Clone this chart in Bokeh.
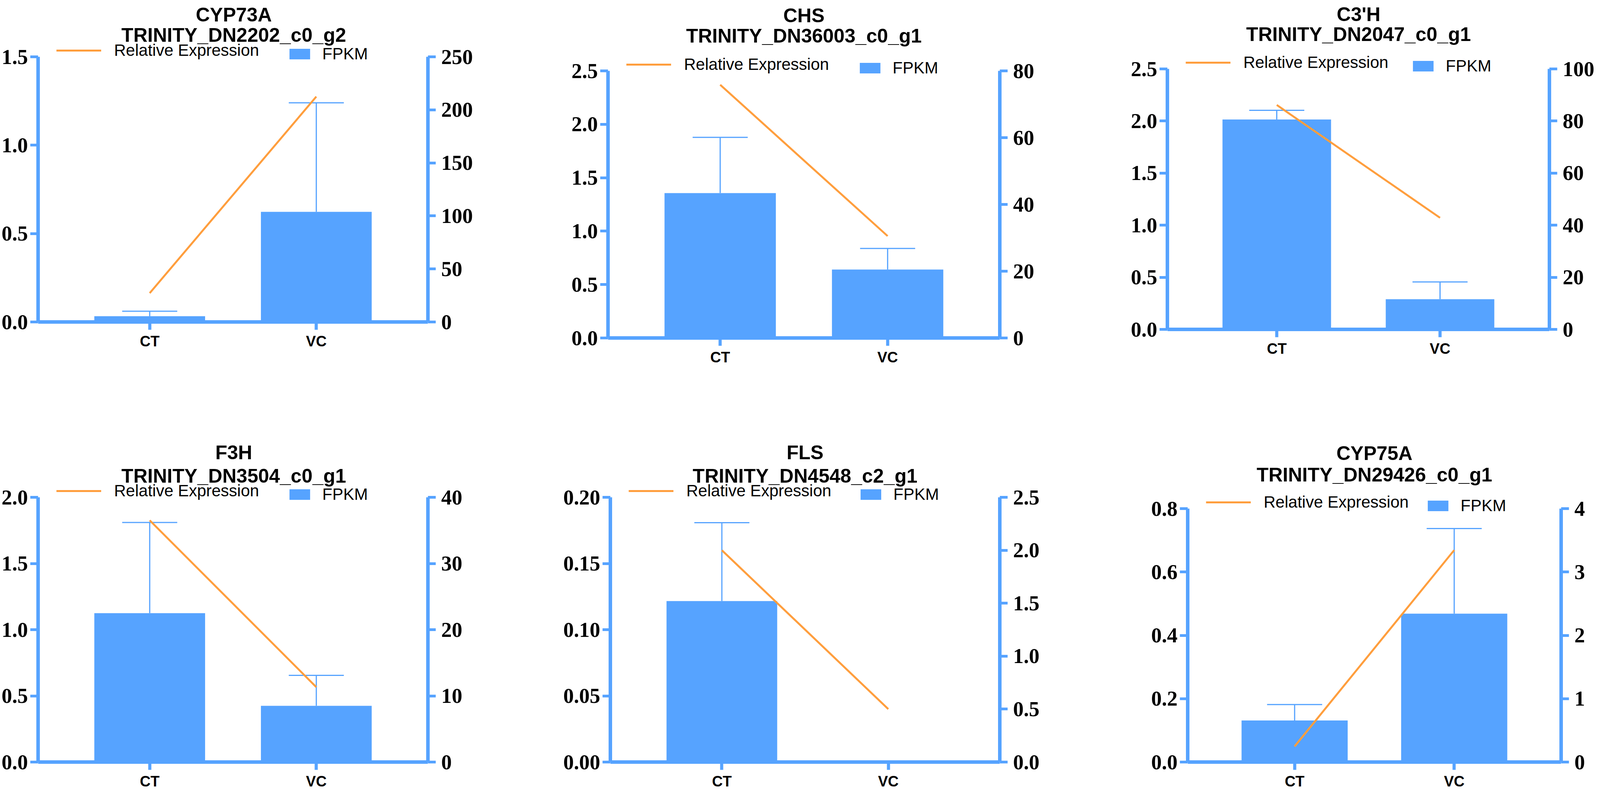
from bokeh.plotting import figure
from bokeh.models import (FactorRange, Range1d, LinearAxis, FixedTicker,
                          PrintfTickFormatter, Legend, LegendItem, Label)
from bokeh.layouts import row, column
from bokeh.embed import file_html
from bokeh.resources import INLINE

# ---------------- data ----------------
categories = ["CT", "VC"]

genes = ["CYP73A", "CHS", "C3'H", "F3H", "FLS", "CYP75A"]
transcripts = ["TRINITY_DN2202_c0_g2", "TRINITY_DN36003_c0_g1", "TRINITY_DN2047_c0_g1",
               "TRINITY_DN3504_c0_g1", "TRINITY_DN4548_c2_g1", "TRINITY_DN29426_c0_g1"]

# Relative expression (left axis, orange line)
rel_cyp73a = [0.163, 1.275]
rel_chs = [2.37, 0.954]
rel_c3h = [2.154, 1.071]
rel_f3h = [1.826, 0.566]
rel_fls = [0.160, 0.040]
rel_cyp75a = [0.0495, 0.669]

# FPKM (right axis, bars) and upper error
fpkm_cyp73a = [5.4, 103.8]
fpkm_chs = [43.4, 20.5]
fpkm_c3h = [80.6, 11.6]
fpkm_f3h = [22.5, 8.5]
fpkm_fls = [1.52, 0.0]
fpkm_cyp75a = [0.656, 2.342]

err_cyp73a = [4.7, 102.8]
err_chs = [16.7, 6.3]
err_c3h = [3.5, 6.6]
err_f3h = [13.7, 4.6]
err_fls = [0.74, 0.0]
err_cyp75a = [0.252, 1.344]

left_ticks_list = [
    [0.0, 0.5, 1.0, 1.5],
    [0.0, 0.5, 1.0, 1.5, 2.0, 2.5],
    [0.0, 0.5, 1.0, 1.5, 2.0, 2.5],
    [0.0, 0.5, 1.0, 1.5, 2.0],
    [0.0, 0.05, 0.10, 0.15, 0.20],
    [0.0, 0.2, 0.4, 0.6, 0.8],
]
right_ticks_list = [
    [0, 50, 100, 150, 200, 250],
    [0, 20, 40, 60, 80],
    [0, 20, 40, 60, 80, 100],
    [0, 10, 20, 30, 40],
    [0.0, 0.5, 1.0, 1.5, 2.0, 2.5],
    [0, 1, 2, 3, 4],
]
left_formats = ["%.1f", "%.1f", "%.1f", "%.1f", "%.2f", "%.1f"]
right_formats = ["%d", "%d", "%d", "%d", "%.1f", "%d"]

rel_list = [rel_cyp73a, rel_chs, rel_c3h, rel_f3h, rel_fls, rel_cyp75a]
fpkm_list = [fpkm_cyp73a, fpkm_chs, fpkm_c3h, fpkm_f3h, fpkm_fls, fpkm_cyp75a]
err_list = [err_cyp73a, err_chs, err_c3h, err_f3h, err_fls, err_cyp75a]

# ---------------- layout / style ----------------
BLUE = "#56A3FF"
ORANGE = "#FF9E3D"

col_widths = [1322, 1370, 1392]
row_heights = [1012, 1012]
# left / right borders (px); distance of top tick from figure top and of baseline from figure bottom
borders = [
    (93, 227, 145, 188),
    (234, 133, 181, 147),
    (296, 117, 176, 169),
    (93, 227, 261, 73),
    (240, 133, 261, 73),
    (348, 88, 290, 73),
]
# title baselines above the top tick: (transcript line, gene line)
title_offsets = [(56, 108), (90, 142), (89, 140), (55, 115), (55, 115), (87, 142)]


def style_axis(ax, color=BLUE):
    ax.axis_line_color = color
    ax.axis_line_width = 9
    ax.major_tick_line_color = color
    ax.major_tick_in = 0
    ax.major_tick_out = 20
    ax.minor_tick_line_color = None
    ax.major_label_text_color = "black"


def make_panel(i):
    w = col_widths[i % 3]
    h = row_heights[i // 3]
    bl, br, bt, bb = borders[i]
    fw = w - bl - br
    axis_h = h - bt - bb
    lt = left_ticks_list[i]
    rt = right_ticks_list[i]
    lk = lt[-1] / axis_h
    rk = rt[-1] / axis_h

    p = figure(width=w, height=h, output_backend="svg", toolbar_location=None,
               x_range=FactorRange(factors=categories, range_padding=0.17,
                                   range_padding_units="absolute"),
               y_range=Range1d(-bb * lk, lt[-1] + bt * lk),
               min_border_left=bl, min_border_right=br,
               min_border_top=0, min_border_bottom=0)
    p.extra_y_ranges = {"fpkm": Range1d(-bb * rk, rt[-1] + bt * rk)}
    p.outline_line_color = None
    p.grid.visible = False
    p.background_fill_color = "white"
    p.border_fill_color = "white"

    raxis = LinearAxis(y_range_name="fpkm")
    p.add_layout(raxis, "right")

    for ax, ticks, fmt, stand in [(p.yaxis[0], lt, left_formats[i], 6),
                                  (raxis, rt, right_formats[i], 14)]:
        style_axis(ax)
        ax.ticker = FixedTicker(ticks=ticks)
        ax.formatter = PrintfTickFormatter(format=fmt)
        ax.bounds = (ticks[0], ticks[-1])
        ax.major_tick_line_width = 7
        ax.major_label_standoff = stand
        ax.major_label_text_font = "Liberation Serif"
        ax.major_label_text_font_style = "bold"
        ax.major_label_text_font_size = "54px"

    xa = p.xaxis[0]
    style_axis(xa)
    xa.fixed_location = 0
    xa.major_tick_line_width = 8
    xa.major_label_standoff = 8
    xa.major_label_text_font = "Liberation Sans"
    xa.major_label_text_font_style = "bold"
    xa.major_label_text_font_size = "38px"

    vals = fpkm_list[i]
    errs = err_list[i]
    bars = p.vbar(x=categories, top=vals, width=0.665, bottom=0,
                  fill_color=BLUE, line_color=None, y_range_name="fpkm")

    ex = [c for c, e in zip(categories, errs) if e > 0]
    ey0 = [v for v, e in zip(vals, errs) if e > 0]
    ey1 = [v + e for v, e in zip(vals, errs) if e > 0]
    p.segment(x0=ex, y0=ey0, x1=ex, y1=ey1, line_color=BLUE, line_width=3,
              y_range_name="fpkm")
    p.scatter(x=ex, y=ey1, marker="dash", size=141, line_color=BLUE,
              line_width=3, y_range_name="fpkm")

    line = p.line(x=categories, y=rel_list[i], line_color=ORANGE, line_width=5)

    y_top = h - bt
    leg1 = Legend(items=[LegendItem(label="Relative Expression", renderers=[line])],
                  location=(47, y_top + 16 - 24), orientation="horizontal",
                  glyph_width=115, glyph_height=48, label_height=48,
                  label_standoff=33, padding=0, margin=0, spacing=0,
                  border_line_color=None, background_fill_alpha=0,
                  label_text_font="Liberation Sans", label_text_font_size="42px",
                  label_text_color="black")
    leg2 = Legend(items=[LegendItem(label="FPKM", renderers=[bars])],
                  location=(round(0.643 * fw) - 7, y_top - 17), orientation="horizontal",
                  glyph_width=66, glyph_height=34, label_height=34,
                  label_standoff=25, padding=0, margin=0, spacing=0,
                  border_line_color=None, background_fill_alpha=0,
                  label_text_font="Liberation Sans", label_text_font_size="42px",
                  label_text_color="black")
    p.add_layout(leg1, "center")
    p.add_layout(leg2, "center")

    o_tr, o_gene = title_offsets[i]
    for txt, off in [(transcripts[i], o_tr), (genes[i], o_gene)]:
        p.add_layout(Label(x=fw / 2, y=y_top + off, x_units="screen", y_units="screen",
                           text=txt, text_align="center", text_baseline="alphabetic",
                           text_font="Liberation Sans", text_font_style="bold",
                           text_font_size="50px", text_color="black"))
    return p


panels = [make_panel(i) for i in range(6)]
layout = column(row(*panels[:3]), row(*panels[3:]))

open("out.html", "w").write(file_html(layout, INLINE))
